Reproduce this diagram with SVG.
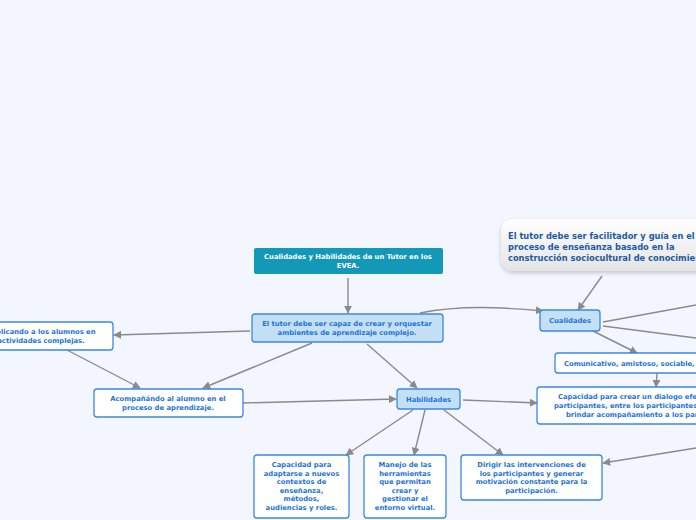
<svg xmlns="http://www.w3.org/2000/svg" width="696" height="520" viewBox="0 0 696 520">
<defs>
<marker id="ah" viewBox="0 0 10 10" refX="9" refY="5" markerWidth="8" markerHeight="8" markerUnits="userSpaceOnUse" orient="auto">
<path d="M0,0 L10,5 L0,10 z" fill="#8a8a8a"/>
</marker>
<linearGradient id="cg" x1="0" y1="0" x2="0" y2="1">
<stop offset="0" stop-color="#ffffff"/>
<stop offset="1" stop-color="#e4e4e4"/>
</linearGradient>
<filter id="sh" x="-10%" y="-20%" width="120%" height="150%">
<feGaussianBlur in="SourceAlpha" stdDeviation="2"/>
<feOffset dy="2"/>
<feComponentTransfer><feFuncA type="linear" slope="0.2"/></feComponentTransfer>
<feMerge><feMergeNode/><feMergeNode in="SourceGraphic"/></feMerge>
</filter>
</defs>
<style>
.t{font-family:"DejaVu Sans",Verdana,sans-serif;font-weight:bold;font-size:6.8px;fill:#1e74d8;text-anchor:middle}
.tw{fill:#ffffff}
.tc{font-family:"DejaVu Sans",Verdana,sans-serif;font-weight:bold;font-size:8.3px;fill:#1d5aa6}
.ts{text-anchor:start}
.n{fill:#ffffff;stroke:#3a88e2;stroke-width:1.3}
.nl{fill:#c4e0f4;stroke:#3a88e2;stroke-width:1.3}
.c{fill:none;stroke:#8a8a8a;stroke-width:1.4;marker-end:url(#ah)}
.cn{fill:none;stroke:#8a8a8a;stroke-width:1.4}
</style>
<rect width="696" height="520" fill="#f3f6fe"/>
<g id="connectors">
<path class="c" d="M348,278 L348,313"/>
<path class="c" d="M250,331 L114,335"/>
<path class="c" d="M67,350 L140,388"/>
<path class="c" d="M312,343 L203,388"/>
<path class="c" d="M243,403 L396,399"/>
<path class="c" d="M367,344 L417,388"/>
<path class="c" d="M420,313 C460,305 500,307 543,311"/>
<path class="c" d="M602,276 L578,310"/>
<path class="cn" d="M603,322 L696,305"/>
<path class="cn" d="M603,326 L696,338"/>
<path class="c" d="M593,331 L637,353"/>
<path class="c" d="M657,373 L656,387"/>
<path class="c" d="M463,400 L537,403"/>
<path class="c" d="M413,410 L346,455"/>
<path class="c" d="M425,410 L414,455"/>
<path class="c" d="M444,410 L503,455"/>
<path class="c" d="M696,448 L603,463"/>
</g>
<g id="root">
<rect x="254" y="248" width="189" height="26" rx="2" fill="#1398b8"/>
<text class="t tw" x="348" y="259">Cualidades y Habilidades de un Tutor en los</text>
<text class="t tw" x="348" y="268">EVEA.</text>
</g>
<g id="main">
<rect class="nl" x="252" y="314" width="191" height="28" rx="3"/>
<text class="t" x="347" y="326">El tutor debe ser capaz de crear y orquestar</text>
<text class="t" x="347" y="335">ambientes de aprendizaje complejo.</text>
</g>
<g id="implicando">
<rect class="n" x="-31" y="322" width="144" height="28" rx="3"/>
<text class="t" x="41" y="334">Implicando a los alumnos en</text>
<text class="t" x="41" y="343">actividades complejas.</text>
</g>
<g id="acompanando">
<rect class="n" x="94" y="389" width="149" height="28" rx="3"/>
<text class="t" x="168" y="401">Acompañándo al alumno en el</text>
<text class="t" x="168" y="410">proceso de aprendizaje.</text>
</g>
<g id="habilidades">
<rect class="nl" x="397" y="389" width="63" height="20" rx="3"/>
<text class="t" x="428.5" y="401.5">Habilidades</text>
</g>
<g id="cualidades">
<rect class="nl" x="540" y="310" width="60" height="21" rx="3"/>
<text class="t" x="570" y="323">Cualidades</text>
</g>
<g id="callout">
<rect x="501" y="219" width="230" height="52" rx="12" fill="url(#cg)" filter="url(#sh)"/>
<text class="tc" x="508" y="239">El tutor debe ser facilitador y guía en el</text>
<text class="tc" x="508" y="250">proceso de enseñanza basado en la</text>
<text class="tc" x="508" y="261">construcción sociocultural de conocimiento.</text>
</g>
<g id="comunicativo">
<rect class="n" x="555" y="353" width="180" height="20" rx="3"/>
<text class="t ts" x="564" y="365.5">Comunicativo, amistoso, sociable, empático.</text>
</g>
<g id="capacidad-dialogo">
<rect class="n" x="537" y="387" width="200" height="37" rx="3"/>
<text class="t ts" x="558" y="399">Capacidad para crear un dialogo efectivo con los</text>
<text class="t ts" x="554" y="408">participantes, entre los participantes y</text>
<text class="t ts" x="566" y="417">brindar acompañamiento a los participantes.</text>
</g>
<g id="capacidad-adaptarse">
<rect class="n" x="254" y="455" width="95" height="63" rx="3"/>
<text class="t" x="301.5" y="467">Capacidad para</text>
<text class="t" x="301.5" y="475.5">adaptarse a nuevos</text>
<text class="t" x="301.5" y="484">contextos de</text>
<text class="t" x="301.5" y="492.5">enseñanza,</text>
<text class="t" x="301.5" y="501">métodos,</text>
<text class="t" x="301.5" y="509.5">audiencias y roles.</text>
</g>
<g id="manejo">
<rect class="n" x="364" y="455" width="82" height="63" rx="3"/>
<text class="t" x="405" y="467">Manejo de las</text>
<text class="t" x="405" y="475.5">herramientas</text>
<text class="t" x="405" y="484">que permitan</text>
<text class="t" x="405" y="492.5">crear y</text>
<text class="t" x="405" y="501">gestionar el</text>
<text class="t" x="405" y="509.5">entorno virtual.</text>
</g>
<g id="dirigir">
<rect class="n" x="461" y="455" width="141" height="45" rx="3"/>
<text class="t" x="531.5" y="467">Dirigir las intervenciones de</text>
<text class="t" x="531.5" y="475.5">los participantes y generar</text>
<text class="t" x="531.5" y="484">motivación constante para la</text>
<text class="t" x="531.5" y="492.5">participación.</text>
</g>
</svg>
